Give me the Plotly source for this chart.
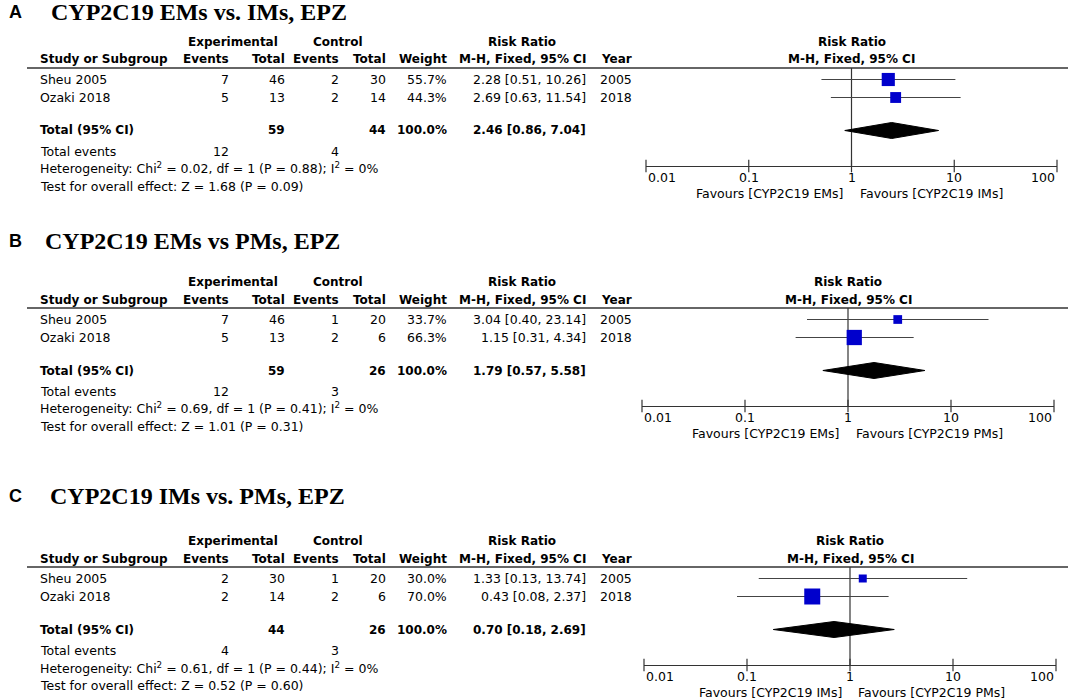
import math
import plotly.graph_objects as go

# ---- data ----
STUDIES = ["Sheu 2005", "Ozaki 2018"]
YEARS = ["2005", "2018"]
AXIS_TICKS = [0.01, 0.1, 1, 10, 100]
AXIS_TICK_LABELS = ["0.01", "0.1", "1", "10", "100"]

A_LETTER = "A"
A_TITLE = "CYP2C19 EMs vs. IMs, EPZ"
A_EXP_EVENTS = [7, 5]
A_EXP_TOTAL = [46, 13]
A_CTRL_EVENTS = [2, 2]
A_CTRL_TOTAL = [30, 14]
A_WEIGHT = [55.7, 44.3]
A_RR = [2.28, 2.69]
A_LO = [0.51, 0.63]
A_HI = [10.26, 11.54]
A_POOLED = [2.46, 0.86, 7.04]
A_HET = ["0.02", "1", "0.88", "0"]   # chi2, df, P, I2
A_Z = ["1.68", "0.09"]
A_FAVOURS = ["Favours [CYP2C19 EMs]", "Favours [CYP2C19 IMs]"]

B_LETTER = "B"
B_TITLE = "CYP2C19 EMs vs PMs, EPZ"
B_EXP_EVENTS = [7, 5]
B_EXP_TOTAL = [46, 13]
B_CTRL_EVENTS = [1, 2]
B_CTRL_TOTAL = [20, 6]
B_WEIGHT = [33.7, 66.3]
B_RR = [3.04, 1.15]
B_LO = [0.40, 0.31]
B_HI = [23.14, 4.34]
B_POOLED = [1.79, 0.57, 5.58]
B_HET = ["0.69", "1", "0.41", "0"]
B_Z = ["1.01", "0.31"]
B_FAVOURS = ["Favours [CYP2C19 EMs]", "Favours [CYP2C19 PMs]"]

C_LETTER = "C"
C_TITLE = "CYP2C19 IMs vs. PMs, EPZ"
C_EXP_EVENTS = [2, 2]
C_EXP_TOTAL = [30, 14]
C_CTRL_EVENTS = [1, 2]
C_CTRL_TOTAL = [20, 6]
C_WEIGHT = [30.0, 70.0]
C_RR = [1.33, 0.43]
C_LO = [0.13, 0.08]
C_HI = [13.74, 2.37]
C_POOLED = [0.70, 0.18, 2.69]
C_HET = ["0.61", "1", "0.44", "0"]
C_Z = ["0.52", "0.60"]
C_FAVOURS = ["Favours [CYP2C19 IMs]", "Favours [CYP2C19 PMs]"]

# ---- layout constants (pixels) ----
W, H = 1072, 700
FONT = "DejaVu Sans"
FS = 12.5
FS_BOLD = 12
INK = "#333333"
SQUARE = "#0000CC"

# per panel: title y, header-rule y, plot x for 0.01, plot x for 100
PANEL_POS = [(12, 68, 646, 1057), (241, 308, 642, 1054), (496, 567, 644, 1056)]
TITLE_X = [49, 43, 48]

# row offsets below the header rule
ROW0, PITCH = 11.5, 18.0
TOTAL_OFF, EVT_OFF, HET_OFF, TEST_OFF = 62.5, 83.0, 100.5, 118.0
AXIS_OFF, TICKLAB_OFF, FAV_OFF = 98.0, 109.5, 125.5
HDR1_OFF, HDR2_OFF = -26.0, -8.5

# column right edges
COL_STUDY = 38
COL_EE, COL_ET, COL_CE, COL_CT, COL_W, COL_RR, COL_YR = 231, 287, 341, 388, 449, 588, 634


def rows(off):
    return (off - ROW0) / PITCH


fig = go.Figure()
annotations = []
shapes = []


def txt(x, y, s, anchor="left", bold=False, size=None, family=FONT):
    if size is None:
        size = FS_BOLD if bold else FS
    annotations.append(dict(
        xref="paper", yref="paper", x=x / W, y=1 - y / H,
        text=f"<b>{s}</b>" if bold else s, showarrow=False,
        xanchor=anchor, yanchor="middle",
        font=dict(family=family, size=size, color="black")))


panels = [
    (A_LETTER, A_TITLE, A_EXP_EVENTS, A_EXP_TOTAL, A_CTRL_EVENTS, A_CTRL_TOTAL,
     A_WEIGHT, A_RR, A_LO, A_HI, A_POOLED, A_HET, A_Z, A_FAVOURS),
    (B_LETTER, B_TITLE, B_EXP_EVENTS, B_EXP_TOTAL, B_CTRL_EVENTS, B_CTRL_TOTAL,
     B_WEIGHT, B_RR, B_LO, B_HI, B_POOLED, B_HET, B_Z, B_FAVOURS),
    (C_LETTER, C_TITLE, C_EXP_EVENTS, C_EXP_TOTAL, C_CTRL_EVENTS, C_CTRL_TOTAL,
     C_WEIGHT, C_RR, C_LO, C_HI, C_POOLED, C_HET, C_Z, C_FAVOURS),
]

layout_axes = {}
for k, (letter, title, ee, et, ce, ct, wt, rr, lo, hi, pooled, het, z, fav) in enumerate(panels):
    ty, ly, x0, x1 = PANEL_POS[k]
    sfx = "" if k == 0 else str(k + 1)
    xa, ya = "x" + sfx, "y" + sfx

    # titles
    txt(7, ty, letter, bold=True, size=18, family="Liberation Sans")
    txt(TITLE_X[k], ty, title, bold=True, size=24, family="Liberation Serif")

    # table header
    txt((188 + 277) / 2, ly + HDR1_OFF, "Experimental", "center", True)
    txt((312 + 363) / 2, ly + HDR1_OFF, "Control", "center", True)
    txt(522, ly + HDR1_OFF, "Risk Ratio", "center", True)
    hy = ly + HDR2_OFF
    txt(COL_STUDY, hy, "Study or Subgroup", "left", True)
    txt(COL_EE, hy, "Events", "right", True)
    txt(COL_ET, hy, "Total", "right", True)
    txt(COL_CE, hy, "Events", "right", True)
    txt(COL_CT, hy, "Total", "right", True)
    txt(COL_W, hy, "Weight", "right", True)
    txt(COL_RR, hy, "M-H, Fixed, 95% CI", "right", True)
    txt(COL_YR, hy, "Year", "right", True)
    shapes.append(dict(type="line", xref="paper", yref="paper",
                       x0=27 / W, x1=1068 / W, y0=1 - ly / H, y1=1 - ly / H,
                       line=dict(color=INK, width=1.3)))

    # study rows
    for i, name in enumerate(STUDIES):
        ry = ly + ROW0 + i * PITCH
        txt(COL_STUDY, ry, name)
        txt(COL_EE, ry, str(ee[i]), "right")
        txt(COL_ET, ry, str(et[i]), "right")
        txt(COL_CE, ry, str(ce[i]), "right")
        txt(COL_CT, ry, str(ct[i]), "right")
        txt(COL_W, ry, f"{wt[i]:.1f}%", "right")
        txt(COL_RR, ry, f"{rr[i]:.2f} [{lo[i]:.2f}, {hi[i]:.2f}]", "right")
        txt(COL_YR, ry, YEARS[i], "right")

    # total rows
    tyy = ly + TOTAL_OFF
    txt(COL_STUDY, tyy, "Total (95% CI)", "left", True)
    txt(COL_ET, tyy, str(sum(et)), "right", True)
    txt(COL_CT, tyy, str(sum(ct)), "right", True)
    txt(COL_W, tyy, f"{sum(wt):.1f}%", "right", True)
    txt(COL_RR, tyy, f"{pooled[0]:.2f} [{pooled[1]:.2f}, {pooled[2]:.2f}]", "right", True)
    txt(COL_STUDY, ly + EVT_OFF, "Total events")
    txt(COL_EE, ly + EVT_OFF, str(sum(ee)), "right")
    txt(COL_CE, ly + EVT_OFF, str(sum(ce)), "right")
    txt(COL_STUDY, ly + HET_OFF,
        f"Heterogeneity: Chi<sup>2</sup> = {het[0]}, df = {het[1]} (P = {het[2]}); "
        f"I<sup>2</sup> = {het[3]}%")
    txt(COL_STUDY, ly + TEST_OFF, f"Test for overall effect: Z = {z[0]} (P = {z[1]})")

    # forest plot header
    for label, off in (("Risk Ratio", HDR1_OFF), ("M-H, Fixed, 95% CI", HDR2_OFF)):
        annotations.append(dict(xref=xa, yref="paper", x=0, y=1 - (ly + off) / H,
                                text=f"<b>{label}</b>", showarrow=False,
                                xanchor="center", yanchor="middle",
                                font=dict(family=FONT, size=FS_BOLD, color="black")))

    # null line
    fig.add_trace(go.Scatter(x=[1, 1], y=[rows(0), rows(AXIS_OFF)], mode="lines",
                             line=dict(color=INK, width=1.2), xaxis=xa, yaxis=ya,
                             hoverinfo="skip"))
    # confidence intervals and squares
    for i in range(len(STUDIES)):
        fig.add_trace(go.Scatter(x=[lo[i], hi[i]], y=[i, i], mode="lines",
                                 line=dict(color="#444444", width=1), xaxis=xa, yaxis=ya))
    fig.add_trace(go.Scatter(x=rr, y=list(range(len(STUDIES))), mode="markers",
                             marker=dict(symbol="square", color=SQUARE, opacity=1,
                                         size=[2 + 0.2 * w for w in wt],
                                         line=dict(width=0)),
                             xaxis=xa, yaxis=ya))
    # pooled diamond
    ty_rows = rows(TOTAL_OFF)
    hh = 8 / PITCH
    fig.add_trace(go.Scatter(x=[pooled[1], pooled[0], pooled[2], pooled[0], pooled[1]],
                             y=[ty_rows, ty_rows - hh, ty_rows, ty_rows + hh, ty_rows],
                             mode="lines", fill="toself", fillcolor="black",
                             line=dict(color="black", width=1), xaxis=xa, yaxis=ya))
    # tick marks crossing the axis line
    fig.add_trace(go.Scatter(x=AXIS_TICKS, y=[rows(AXIS_OFF)] * len(AXIS_TICKS),
                             mode="markers", cliponaxis=False,
                             marker=dict(symbol="line-ns-open", size=9, color=INK,
                                         line=dict(color=INK, width=1.2)),
                             xaxis=xa, yaxis=ya))
    # tick labels (end labels aligned inward)
    for j, (v, lab) in enumerate(zip(AXIS_TICKS, AXIS_TICK_LABELS)):
        anc = "left" if j == 0 else ("right" if j == len(AXIS_TICKS) - 1 else "center")
        annotations.append(dict(xref=xa, yref="paper", x=math.log10(v),
                                y=1 - (ly + TICKLAB_OFF) / H, text=lab, showarrow=False,
                                xanchor=anc, yanchor="middle",
                                font=dict(family=FONT, size=FS, color="black")))
    # favours labels
    annotations.append(dict(xref=xa, yref="paper", x=0, xshift=-6,
                            y=1 - (ly + FAV_OFF) / H, text=fav[0], showarrow=False,
                            xanchor="right", yanchor="middle",
                            font=dict(family=FONT, size=FS, color="black")))
    annotations.append(dict(xref=xa, yref="paper", x=0, xshift=6,
                            y=1 - (ly + FAV_OFF) / H, text=fav[1], showarrow=False,
                            xanchor="left", yanchor="middle",
                            font=dict(family=FONT, size=FS, color="black")))

    layout_axes["xaxis" + sfx] = dict(
        type="log", range=[-2, 2], domain=[x0 / W, x1 / W], anchor=ya,
        showline=True, linecolor=INK, linewidth=1.2, ticks="",
        showticklabels=False, showgrid=False, zeroline=False, fixedrange=True)
    layout_axes["yaxis" + sfx] = dict(
        range=[rows(AXIS_OFF), rows(0)], domain=[1 - (ly + AXIS_OFF) / H, 1 - ly / H],
        anchor=xa, visible=False, fixedrange=True)

fig.update_layout(
    width=W, height=H, margin=dict(l=0, r=0, t=0, b=0),
    paper_bgcolor="white", plot_bgcolor="white", showlegend=False,
    hovermode=False, annotations=annotations, shapes=shapes, **layout_axes)

# the page's default 8px body margin would push the fixed-size figure off the window
fig.write_html("out.html", config={"displayModeBar": False},
               post_script="document.body.style.margin='0px';")
